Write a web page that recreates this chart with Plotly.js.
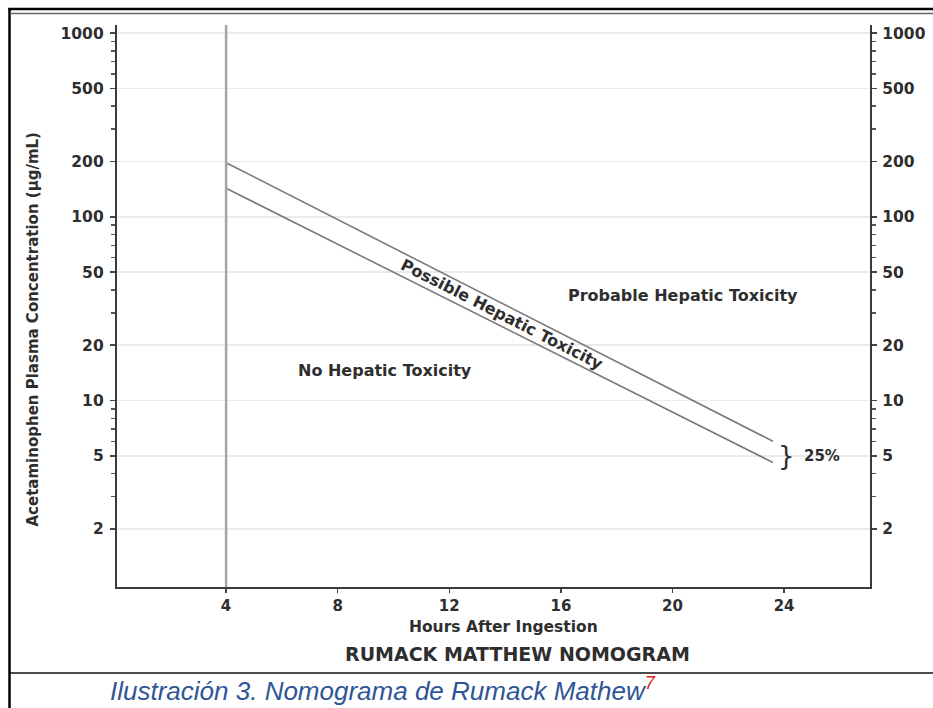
<!DOCTYPE html>
<html>
<head>
<meta charset="utf-8">
<script src="https://cdn.plot.ly/plotly-3.0.1.min.js"></script>
<style>html,body{margin:0;padding:0;background:#fff;}#chart{width:933px;height:708px;}</style>
</head>
<body>
<div id="chart"></div>
<script>
// ---- data ----
const hours = [4, 23.6];
const upperLine = [197, 6.0];   // 200-line (start of possible toxicity)
const lowerLine = [143, 4.6];   // 25% lower treatment line
const startHour = 4;
const xTickVals = [4, 8, 12, 16, 20, 24];
const yTickVals = [2, 5, 10, 20, 50, 100, 200, 500, 1000];
const yTickText = ['2', '5', '10', '20', '50', '100', '200', '500', '1000'];
const yMinorVals = [3, 4, 6, 7, 8, 9, 30, 40, 60, 70, 80, 90, 300, 400, 600, 700, 800, 900];
const regionLabels = ['No Hepatic Toxicity', 'Probable Hepatic Toxicity', 'Possible Hepatic Toxicity'];

// ---- layout helpers (pixel -> paper) ----
const M = {l: 117, r: 63, t: 25, b: 121};
const W = 933, H = 708;
const pw = W - M.l - M.r, ph = H - M.t - M.b;
const PX = px => (px - M.l) / pw;
const PY = py => (H - M.b - py) / ph;

const dark = '#2e2e2e';
const fam = 'DejaVu Sans, Verdana, sans-serif';
const font = {family: fam, color: dark, size: 15.5, weight: 700};
const f = (size) => Object.assign({}, font, {size: size});
const yRange = [-0.015, 3.044];

const traces = [
  {x: hours, y: upperLine, mode: 'lines', line: {color: '#7a7a7a', width: 1.6}, hoverinfo: 'skip', showlegend: false},
  {x: hours, y: lowerLine, mode: 'lines', line: {color: '#7a7a7a', width: 1.6}, hoverinfo: 'skip', showlegend: false, yaxis: 'y2'}
];

const yCommon = {
  type: 'log', range: yRange, tickmode: 'array', tickvals: yTickVals, ticktext: yTickText,
  ticks: 'outside', ticklen: 5, tickwidth: 1.5, tickcolor: '#444',
  showline: true, linecolor: '#3a3a3a', linewidth: 2.2, zeroline: false,
  tickfont: font,
  minor: {tickmode: 'array', tickvals: yMinorVals, ticks: 'outside', ticklen: 4, tickwidth: 1.5, tickcolor: '#555', showgrid: false},
  fixedrange: true
};

const layout = {
  width: W, height: H,
  margin: M,
  paper_bgcolor: '#ffffff', plot_bgcolor: '#ffffff',
  showlegend: false,
  xaxis: {
    range: [0.09, 27.08], tickmode: 'array', tickvals: xTickVals,
    ticks: 'outside', ticklen: 4, tickwidth: 1.5, tickcolor: '#444',
    showline: true, linecolor: '#3a3a3a', linewidth: 2.2, showgrid: false, zeroline: false,
    tickfont: f(15), fixedrange: true
  },
  yaxis: Object.assign({}, yCommon, {showgrid: true, gridcolor: '#ebebeb', gridwidth: 1.5, ticklabelstandoff: 3}),
  yaxis2: Object.assign({}, yCommon, {overlaying: 'y', side: 'right', showgrid: false, ticklabelstandoff: 2}),
  shapes: [
    // 4-hour vertical line
    {type: 'line', xref: 'x', yref: 'paper', x0: startHour, x1: startHour, y0: 0, y1: 1,
     line: {color: '#a5a5a5', width: 2.5}, layer: 'above'},
    // outer frame
    {type: 'line', xref: 'paper', yref: 'paper', x0: PX(9.5), x1: PX(9.5), y0: PY(8), y1: PY(710), line: {color: '#000', width: 2.5}},
    {type: 'line', xref: 'paper', yref: 'paper', x0: PX(8.5), x1: PX(935), y0: PY(9), y1: PY(9), line: {color: '#000', width: 2.5}},
    {type: 'line', xref: 'paper', yref: 'paper', x0: PX(10), x1: PX(935), y0: PY(13.5), y1: PY(13.5), line: {color: '#666', width: 1.5}},
    {type: 'line', xref: 'paper', yref: 'paper', x0: PX(10), x1: PX(935), y0: PY(673), y1: PY(673), line: {color: '#111', width: 1.5}}
  ],
  annotations: [
    {text: regionLabels[0], x: 9.7, y: Math.log10(14.6), xref: 'x', yref: 'y', xanchor: 'center', yanchor: 'middle', showarrow: false, font: f(16)},
    {text: regionLabels[1], x: 20.38, y: Math.log10(37.5), xref: 'x', yref: 'y', xanchor: 'center', yanchor: 'middle', showarrow: false, font: f(16)},
    {text: regionLabels[2], x: 13.9, y: Math.log10(29.5), xref: 'x', yref: 'y', xanchor: 'center', yanchor: 'middle', showarrow: false, textangle: 27, font: f(16)},
    {text: '}', x: 24.1, y: Math.log10(5), xref: 'x', yref: 'y', xanchor: 'center', yanchor: 'middle', showarrow: false, font: {family: fam, size: 26, color: dark}},
    {text: '25%', x: 25.36, y: Math.log10(5), xref: 'x', yref: 'y', xanchor: 'center', yanchor: 'middle', showarrow: false, font: f(15)},
    {text: 'Acetaminophen Plasma Concentration (μg/mL)', x: PX(33), y: PY(329.5), xref: 'paper', yref: 'paper', xanchor: 'center', yanchor: 'middle', showarrow: false, textangle: -90, font: f(15)},
    {text: 'Hours After Ingestion', x: PX(503), y: PY(627), xref: 'paper', yref: 'paper', xanchor: 'center', yanchor: 'middle', showarrow: false, font: f(15.5)},
    {text: 'RUMACK MATTHEW NOMOGRAM', x: PX(517), y: PY(654), xref: 'paper', yref: 'paper', xanchor: 'center', yanchor: 'middle', showarrow: false, font: f(19)},
    {text: 'Ilustración 3. Nomograma de Rumack Mathew<sup><span style="color:#e02020">7</span></sup>', x: PX(108), y: PY(689), xref: 'paper', yref: 'paper', xanchor: 'left', yanchor: 'middle', showarrow: false,
     font: {family: 'Liberation Sans, Arial, sans-serif', size: 26, color: '#2E5597', style: 'italic'}}
  ]
};

Plotly.newPlot('chart', traces, layout, {staticPlot: true, displayModeBar: false});
</script>
</body>
</html>
